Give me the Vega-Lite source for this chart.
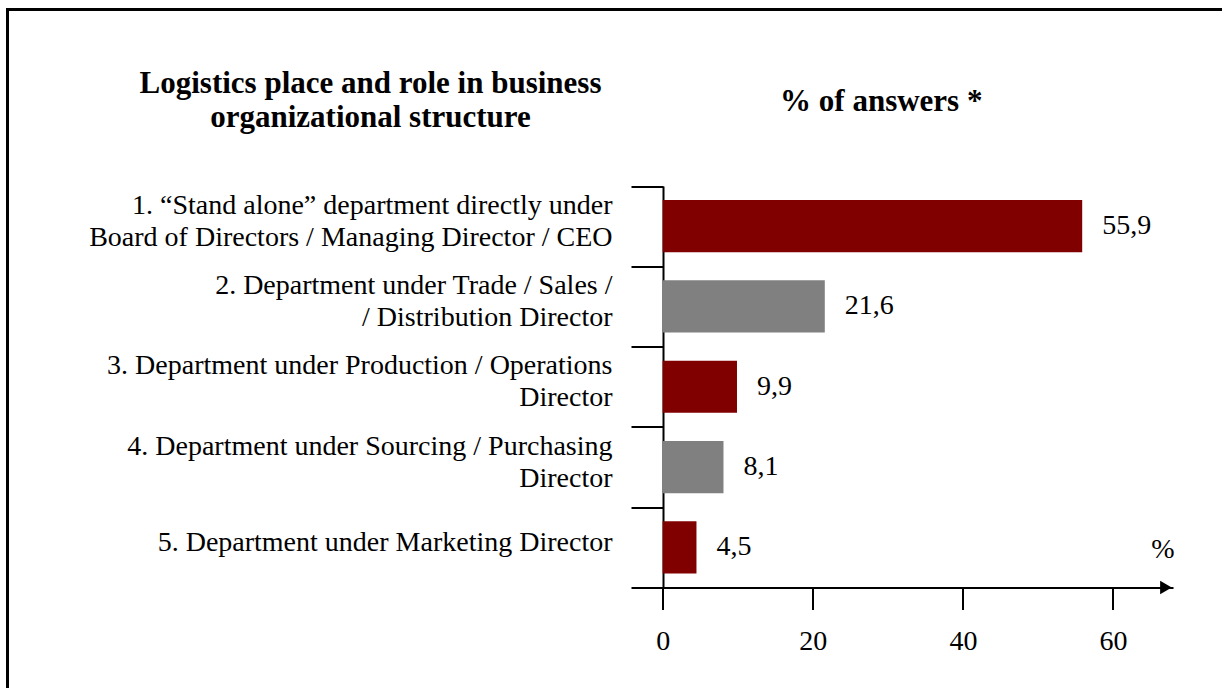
{
  "$schema": "https://vega.github.io/schema/vega-lite/v6.json",
  "width": 1217.5,
  "height": 681.5,
  "autosize": "none",
  "padding": {"left": 7.5, "top": 9.5, "right": -3, "bottom": -3},
  "background": "white",
  "config": {
    "view": {"stroke": "black", "strokeWidth": 3},
    "font": "Liberation Serif",
    "locale": {"number": {"decimal": ",", "thousands": " ", "grouping": [3], "currency": ["", ""]}}
  },
  "title": {
    "text": "% of answers *",
    "anchor": "middle",
    "frame": "group",
    "font": "Liberation Serif",
    "fontSize": 31,
    "fontWeight": "bold",
    "color": "black",
    "baseline": "alphabetic",
    "offset": 0,
    "dx": 265,
    "dy": 146
  },
  "data": {
    "values": [
      {"Item": "1. “Stand alone” department directly under\nBoard of Directors / Managing Director / CEO", "Share": 55.9},
      {"Item": "2. Department under Trade / Sales /\n/ Distribution Director", "Share": 21.6},
      {"Item": "3. Department under Production / Operations\nDirector", "Share": 9.9},
      {"Item": "4. Department under Sourcing / Purchasing\nDirector", "Share": 8.1},
      {"Item": "5. Department under Marketing Director", "Share": 4.5}
    ]
  },
  "layer": [
    {
      "mark": {"type": "bar", "height": {"band": 0.65}},
      "encoding": {
        "y": {
          "field": "Item",
          "type": "nominal",
          "sort": null,
          "scale": {"range": [176.5, 578], "paddingInner": 0, "paddingOuter": 0},
          "axis": {
            "orient": "left",
            "offset": -655.5,
            "title": ["Logistics place and role in business", "organizational structure"],
            "titleAngle": 0,
            "titleX": -293,
            "titleY": 82.5,
            "titleAlign": "center",
            "titleBaseline": "alphabetic",
            "titleFont": "Liberation Serif",
            "titleFontSize": 31,
            "titleFontWeight": "bold",
            "titleColor": "black",
            "titleLineHeight": 34,
            "domainColor": "black",
            "domainWidth": 2,
            "tickColor": "black",
            "tickWidth": 2,
            "tickSize": 32,
            "tickBand": "extent",
            "labelPadding": 19,
            "labelFont": "Liberation Serif",
            "labelFontSize": 28,
            "labelColor": "black",
            "labelLineHeight": 32,
            "labelExpr": "split(datum.label, '\\n')",
            "labelOffset": {"expr": "indexof(datum.label, '\\n') >= 0 ? -21 : -4.5"},
            "labelLimit": 0,
            "labelOverlap": false,
            "labelBound": false,
            "grid": false
          }
        },
        "x": {
          "field": "Share",
          "type": "quantitative",
          "scale": {"domain": [0, 68], "range": [655.2, 1165.5], "nice": false, "zero": true},
          "axis": {
            "orient": "bottom",
            "offset": -103.5,
            "values": [0, 20, 40, 60],
            "domainColor": "black",
            "domainWidth": 2,
            "tickColor": "black",
            "tickWidth": 2,
            "tickSize": 22,
            "labelFont": "Liberation Serif",
            "labelFontSize": 28,
            "labelColor": "black",
            "labelPadding": 18,
            "labelFlush": false,
            "grid": false,
            "title": "%",
            "titleFont": "Liberation Serif",
            "titleFontSize": 28,
            "titleFontWeight": "normal",
            "titleColor": "black",
            "titleX": 1166.5,
            "titleY": -30.5,
            "titleAlign": "right",
            "titleBaseline": "alphabetic"
          }
        },
        "color": {
          "field": "Item",
          "type": "nominal",
          "sort": null,
          "scale": {"range": ["#800000", "#808080", "#800000", "#808080", "#800000"]},
          "legend": null
        }
      }
    },
    {
      "mark": {"type": "text", "align": "left", "baseline": "middle", "dx": 20, "font": "Liberation Serif", "fontSize": 28, "color": "black"},
      "encoding": {
        "y": {"field": "Item", "type": "nominal", "sort": null},
        "x": {"field": "Share", "type": "quantitative"},
        "text": {"field": "Share", "type": "quantitative", "format": ".1f"}
      }
    },
    {
      "transform": [{"filter": "datum.Share == 4.5"}],
      "mark": {"type": "point", "shape": "triangle-right", "filled": true, "color": "black", "opacity": 1, "size": 180},
      "encoding": {
        "y": {"field": "Item", "type": "nominal", "sort": null, "bandPosition": 1},
        "x": {"datum": 67.06, "type": "quantitative"}
      }
    }
  ]
}
